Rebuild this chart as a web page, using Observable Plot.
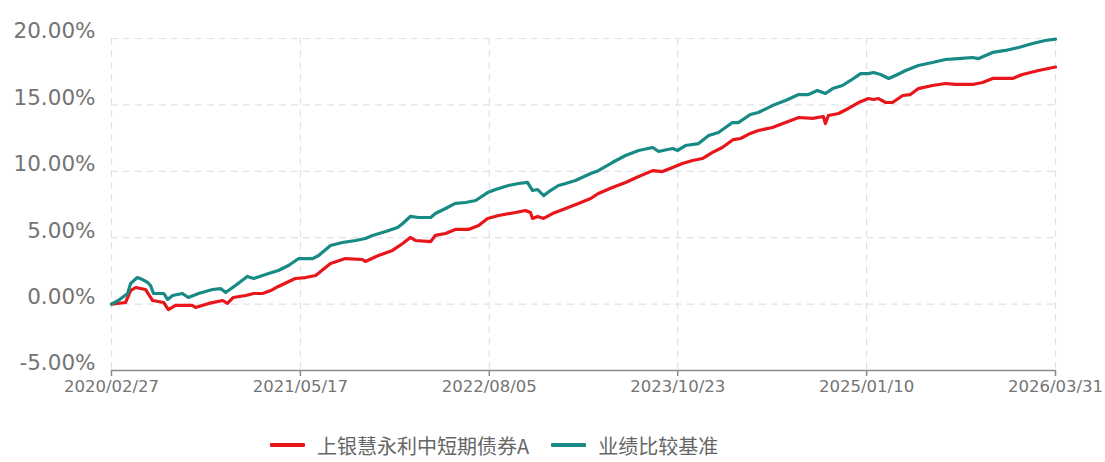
<!DOCTYPE html>
<html>
<head>
<meta charset="utf-8">
<script src="https://cdn.jsdelivr.net/npm/d3@7"></script>
<script src="https://cdn.jsdelivr.net/npm/@observablehq/plot@0.6"></script>
<style>
  html, body { margin: 0; padding: 0; background: #fff; overflow: hidden; }
  #chart svg { display: block; }
  .legend { display: flex; align-items: center; box-sizing: border-box; height: 42px; padding-top: 8px; padding-left: 270px;
    font-family: "Noto Sans CJK SC", "DejaVu Sans", sans-serif; font-size: 20px; line-height: 21px; color: #666; }
  .item { display: flex; align-items: center; margin-right: 22px; }
  .sw { width: 35px; height: 4px; margin-right: 12px; border-radius: 1px; }
</style>
</head>
<body>
<div id="chart"></div>
<div class="legend" id="legend"></div>
<script>
const seriesNames = ["上银慧永利中短期债券A", "业绩比较基准"];
const seriesColors = ["#e8151b", "#178a86"];

const xTickLabels = ["2020/02/27", "2021/05/17", "2022/08/05", "2023/10/23", "2025/01/10", "2026/03/31"];
const yTicks = [-5, 0, 5, 10, 15, 20];

const fundDates = [
  "2020-02-27","2020-03-31","2020-04-12","2020-04-24","2020-05-17","2020-06-03","2020-06-29","2020-07-10",
  "2020-07-27","2020-09-05","2020-09-12","2020-10-13","2020-11-15","2020-11-26","2020-12-10","2021-01-08",
  "2021-01-27","2021-02-17","2021-03-08","2021-03-26","2021-05-05","2021-05-29","2021-06-22","2021-07-27",
  "2021-08-31","2021-10-10","2021-10-17","2021-11-17","2021-12-20","2022-01-13","2022-01-31","2022-02-12",
  "2022-03-20","2022-03-31","2022-04-24","2022-05-17","2022-06-17","2022-07-11","2022-08-01","2022-08-27",
  "2022-10-06","2022-10-29","2022-11-10","2022-11-15","2022-11-27","2022-12-11","2023-01-01","2023-02-01",
  "2023-03-03","2023-04-01","2023-04-19","2023-05-22","2023-06-22","2023-07-23","2023-08-25","2023-09-17",
  "2023-10-11","2023-11-03","2023-11-27","2023-12-20","2024-01-13","2024-02-05","2024-03-02","2024-03-19",
  "2024-04-11","2024-04-30","2024-06-02","2024-07-03","2024-08-03","2024-09-05","2024-09-30","2024-10-05",
  "2024-10-12","2024-11-05","2024-11-28","2024-12-22","2025-01-14","2025-01-26","2025-02-07","2025-02-24",
  "2025-03-12","2025-04-05","2025-04-23","2025-05-12","2025-06-14","2025-07-15","2025-08-07","2025-09-16",
  "2025-10-10","2025-11-03","2025-12-20","2026-01-12","2026-02-19","2026-03-31"
];
const fundValues = [
  0.00, 0.12, 1.02, 1.25, 1.10, 0.27, 0.12, -0.41,
  -0.10, -0.10, -0.26, 0.05, 0.27, 0.05, 0.50, 0.65,
  0.80, 0.80, 1.02, 1.33, 1.93, 2.00, 2.15, 3.06,
  3.43, 3.36, 3.21, 3.66, 4.04, 4.56, 5.02, 4.79,
  4.71, 5.17, 5.32, 5.62, 5.62, 5.92, 6.45, 6.67,
  6.90, 7.05, 6.90, 6.45, 6.60, 6.45, 6.82, 7.20,
  7.58, 7.95, 8.33, 8.78, 9.16, 9.61, 10.05, 9.98,
  10.29, 10.59, 10.81, 10.96, 11.42, 11.79, 12.39, 12.47,
  12.85, 13.07, 13.30, 13.67, 14.05, 13.98, 14.13, 13.60,
  14.20, 14.35, 14.73, 15.18, 15.48, 15.41, 15.48, 15.18,
  15.18, 15.71, 15.78, 16.23, 16.46, 16.61, 16.54, 16.54,
  16.69, 16.99, 16.99, 17.29, 17.59, 17.85
];

const benchDates = [
  "2020-02-27","2020-03-14","2020-04-05","2020-04-12","2020-04-28","2020-05-10","2020-05-22","2020-05-29",
  "2020-06-05","2020-06-29","2020-07-08","2020-07-20","2020-08-12","2020-08-26","2020-09-19","2020-10-22",
  "2020-11-10","2020-11-22","2020-12-15","2021-01-12","2021-01-27","2021-03-03","2021-03-26","2021-04-19",
  "2021-05-13","2021-06-15","2021-06-29","2021-07-27","2021-08-24","2021-09-24","2021-10-17","2021-11-03",
  "2021-12-04","2022-01-01","2022-01-13","2022-01-31","2022-02-19","2022-03-20","2022-03-31","2022-04-24",
  "2022-05-17","2022-06-10","2022-07-04","2022-08-01","2022-08-20","2022-09-19","2022-10-13","2022-11-03",
  "2022-11-15","2022-11-27","2022-12-11","2022-12-27","2023-01-15","2023-02-01","2023-02-24","2023-04-01",
  "2023-04-19","2023-05-22","2023-06-22","2023-07-23","2023-08-25","2023-09-08","2023-09-29","2023-10-11",
  "2023-10-23","2023-11-10","2023-12-11","2024-01-04","2024-01-27","2024-02-29","2024-03-14","2024-04-11",
  "2024-04-30","2024-06-02","2024-07-03","2024-08-03","2024-08-26","2024-09-16","2024-10-05","2024-10-22",
  "2024-11-14","2024-12-03","2024-12-27","2025-01-14","2025-01-26","2025-02-12","2025-03-03","2025-03-24",
  "2025-04-12","2025-05-12","2025-06-14","2025-07-15","2025-08-14","2025-09-16","2025-10-01","2025-11-03",
  "2025-12-03","2026-01-03","2026-02-05","2026-03-07","2026-03-31"
];
const benchValues = [
  0.00, 0.27, 0.80, 1.55, 2.00, 1.85, 1.63, 1.40,
  0.80, 0.80, 0.35, 0.65, 0.80, 0.50, 0.80, 1.10,
  1.17, 0.87, 1.40, 2.08, 1.93, 2.30, 2.53, 2.91,
  3.43, 3.43, 3.66, 4.41, 4.64, 4.79, 4.94, 5.17,
  5.47, 5.77, 6.07, 6.60, 6.52, 6.52, 6.82, 7.20,
  7.58, 7.65, 7.80, 8.40, 8.63, 8.93, 9.08, 9.16,
  8.55, 8.63, 8.17, 8.55, 8.93, 9.08, 9.31, 9.83,
  10.05, 10.66, 11.19, 11.57, 11.79, 11.49, 11.64, 11.72,
  11.57, 11.94, 12.09, 12.69, 12.92, 13.67, 13.67, 14.28,
  14.43, 14.95, 15.33, 15.78, 15.78, 16.08, 15.86, 16.23,
  16.46, 16.84, 17.36, 17.36, 17.44, 17.29, 16.99, 17.29,
  17.59, 17.97, 18.19, 18.42, 18.49, 18.57, 18.49, 18.95,
  19.10, 19.32, 19.62, 19.85, 19.95
];

const parseIso = d3.utcParse("%Y-%m-%d");
const parseTick = d3.utcParse("%Y/%m/%d");
const xTickDates = xTickLabels.map(parseTick);

const data = [
  ...fundDates.map((d, i) => ({date: parseIso(d), value: fundValues[i], series: seriesNames[0]})),
  ...benchDates.map((d, i) => ({date: parseIso(d), value: benchValues[i], series: seriesNames[1]}))
];

const gridColor = "#dde3ec";
const textColor = "#747474";

const chart = Plot.plot({
  width: 1105,
  height: 420,
  marginLeft: 111,
  marginRight: 50,
  marginTop: 38,
  marginBottom: 50,
  style: {fontFamily: "'DejaVu Sans', sans-serif", background: "#fff"},
  x: {type: "utc", domain: [xTickDates[0], xTickDates[xTickDates.length - 1]]},
  y: {domain: [yTicks[0], yTicks[yTicks.length - 1]]},
  color: {domain: seriesNames, range: seriesColors},
  marks: [
    Plot.ruleY(yTicks.slice(1), {stroke: gridColor, strokeWidth: 1.2, strokeDasharray: "7,5"}),
    Plot.ruleX(xTickDates, {stroke: gridColor, strokeWidth: 1.2, strokeDasharray: "7,5"}),
    Plot.lineY(data, {x: "date", y: "value", z: "series", stroke: "series", strokeWidth: 3.2, strokeLinejoin: "round"}),
    Plot.ruleY([yTicks[0]], {stroke: "#8a8a8a", strokeWidth: 1.5}),
    Plot.axisY({ticks: yTicks, tickFormat: d => d.toFixed(2) + "%", tickSize: 0, tickPadding: 16,
      fontSize: 21.5, dy: -7, fill: textColor, label: null}),
    Plot.axisX({ticks: xTickDates, tickFormat: d3.utcFormat("%Y/%m/%d"), tickSize: 6, tickPadding: 4,
      fontSize: 16.5, fill: textColor, stroke: "#8a8a8a", strokeWidth: 1.5, label: null})
  ]
});
document.getElementById("chart").appendChild(chart);

const legend = document.getElementById("legend");
seriesNames.forEach((name, i) => {
  const item = document.createElement("div");
  item.className = "item";
  const sw = document.createElement("div");
  sw.className = "sw";
  sw.style.background = seriesColors[i];
  const label = document.createElement("span");
  label.textContent = name;
  item.appendChild(sw);
  item.appendChild(label);
  legend.appendChild(item);
});
</script>
</body>
</html>
